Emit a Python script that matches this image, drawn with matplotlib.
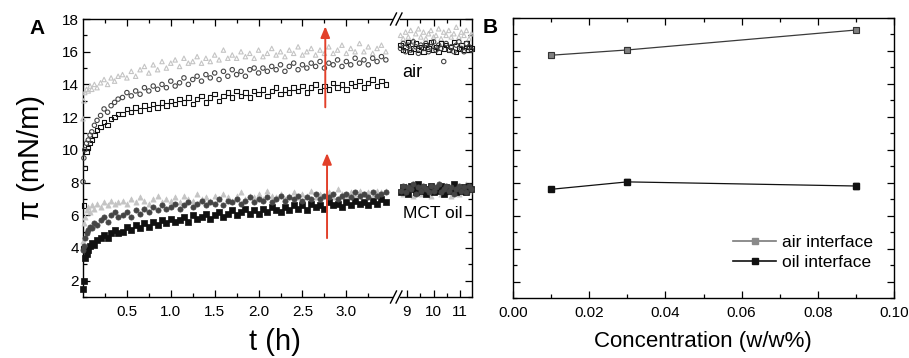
import matplotlib
matplotlib.use('Agg')
import matplotlib.pyplot as plt
from matplotlib.ticker import FixedLocator, MultipleLocator
from matplotlib.lines import Line2D

plt.rcParams['font.family'] = ['Liberation Sans', 'DejaVu Sans']

# ---------------- data: panel A (surface pressure vs time) ----------------
t_left = [0.00, 0.01, 0.02, 0.04, 0.06, 0.08, 0.10, 0.13, 0.16, 0.20, 0.24, 0.28, 0.32, 0.36, 0.40,
          0.45, 0.50, 0.55, 0.60, 0.65, 0.70, 0.75, 0.80, 0.85, 0.90,
          0.95, 1.00, 1.05, 1.10, 1.15, 1.20, 1.25, 1.30, 1.35, 1.40,
          1.45, 1.50, 1.55, 1.60, 1.65, 1.70, 1.75, 1.80, 1.85, 1.90,
          1.95, 2.00, 2.05, 2.10, 2.15, 2.20, 2.25, 2.30, 2.35, 2.40,
          2.45, 2.50, 2.55, 2.60, 2.65, 2.70, 2.75, 2.80, 2.85, 2.90,
          2.95, 3.00, 3.05, 3.10, 3.15, 3.20, 3.25, 3.30, 3.35, 3.40,
          3.45]

t_right = [8.76, 8.86, 8.95, 9.05, 9.14, 9.24, 9.33, 9.43, 9.52, 9.62,
           9.71, 9.81, 9.90, 10.00, 10.09, 10.19, 10.28, 10.38, 10.47, 10.57,
           10.66, 10.76, 10.85, 10.95, 11.04, 11.14, 11.23, 11.33, 11.42]

# air interface
air_tri_left = [11.9, 13.0, 13.5, 13.7, 13.6, 13.9, 13.7, 14.0, 13.8, 14.1, 14.3, 14.0, 14.4, 14.2, 14.5,
                14.6, 14.4, 14.8, 14.5, 14.9, 15.1, 14.7, 15.2, 14.9, 15.4,
                15.0, 15.3, 15.5, 15.1, 15.6, 15.3, 15.4, 15.7, 15.3, 15.6,
                15.4, 15.8, 15.5, 16.1, 15.6, 15.8, 15.6, 16.0, 15.7, 15.9,
                15.6, 16.1, 15.7, 15.9, 16.2, 15.8, 16.0, 15.7, 16.1, 15.9,
                16.3, 15.8, 16.0, 16.2, 15.8, 16.1, 15.9, 16.3, 15.9, 16.1,
                16.4, 15.9, 16.2, 16.0, 16.5, 16.0, 16.3, 15.9, 16.2, 16.4,
                16.0]
air_cir_left = [8.05, 9.5, 10.0, 10.4, 10.6, 10.9, 11.1, 11.5, 11.8, 12.1, 12.5, 12.3, 12.7, 12.9, 13.1,
                13.2, 13.5, 13.3, 13.6, 13.4, 13.8, 13.6, 13.9, 13.7, 14.0,
                13.8, 14.2, 13.9, 14.1, 14.4, 14.0, 14.3, 14.5, 14.2, 14.6,
                14.4, 14.7, 14.3, 14.8, 14.5, 14.9, 14.6, 14.8, 14.5, 14.9,
                15.0, 14.7, 15.0, 14.8, 15.1, 14.9, 15.2, 14.8, 15.1, 15.3,
                14.9, 15.2, 15.0, 15.3, 15.1, 15.4, 15.0, 15.3, 15.2, 15.5,
                15.1, 15.4, 15.2, 15.6, 15.3, 15.5, 15.2, 15.6, 15.4, 15.7,
                15.5]
air_sq_left = [4.0, 6.6, 8.9, 9.9, 10.1, 10.4, 10.6, 10.9, 11.2, 11.4, 11.7, 11.5, 11.9, 12.0, 12.2,
               12.2, 12.5, 12.3, 12.6, 12.4, 12.7, 12.5, 12.8, 12.6, 12.9,
               12.7, 13.0, 12.8, 13.1, 12.9, 13.2, 12.8, 13.1, 13.3, 12.9,
               13.2, 13.4, 13.0, 13.3, 13.5, 13.2, 13.6, 13.3, 13.5, 13.2,
               13.6, 13.4, 13.7, 13.3, 13.6, 13.8, 13.4, 13.7, 13.5, 13.8,
               13.6, 13.9, 13.5, 13.8, 14.0, 13.6, 13.9, 13.7, 14.1, 13.8,
               14.0, 13.7, 14.1, 13.9, 14.2, 13.8, 14.1, 14.3, 13.9, 14.2,
               14.0]
air_tri_right = [17.0, 16.8, 17.2, 16.9, 17.3, 16.7, 17.1, 17.4, 16.9, 17.2,
                 16.8, 17.1, 17.3, 16.9, 17.0, 17.4, 16.8, 17.2, 17.0, 17.3,
                 16.9, 17.1, 17.5, 16.9, 17.2, 17.0, 17.3, 16.8, 17.1]
air_cir_right = [16.2, 16.5, 16.0, 16.4, 16.1, 16.6, 16.3, 15.9, 16.4, 16.2,
                 16.5, 16.0, 16.3, 16.6, 16.1, 16.4, 16.2, 15.4, 16.5, 16.1,
                 16.3, 16.0, 16.4, 16.6, 16.2, 16.0, 16.5, 16.3, 16.1]
air_sq_right = [16.4, 16.1, 16.3, 16.6, 16.0, 16.2, 16.5, 16.1, 16.3, 16.0,
                16.4, 16.2, 16.6, 16.1, 16.3, 16.0, 16.5, 16.2, 16.4, 16.1,
                16.3, 16.6, 16.0, 16.2, 16.4, 16.1, 16.5, 16.3, 16.2]

# MCT oil interface
oil_tri_left = [4.4, 5.5, 5.9, 6.3, 6.5, 6.2, 6.6, 6.4, 6.7, 6.5, 6.8, 6.6, 6.9, 6.7, 6.8,
                6.9, 6.7, 7.0, 6.8, 7.1, 6.9, 6.7, 7.0, 7.2, 6.8,
                7.0, 6.9, 7.1, 6.8, 7.2, 7.0, 6.9, 7.3, 7.0, 7.1,
                6.9, 7.2, 7.0, 7.3, 7.1, 6.9, 7.2, 7.4, 7.0, 7.2,
                7.1, 7.3, 7.0, 7.5, 7.2, 7.1, 7.3, 7.0, 7.2, 7.4,
                7.1, 7.3, 7.2, 7.5, 7.1, 7.3, 7.2, 7.4, 7.1, 7.6,
                7.3, 7.2, 7.4, 7.2, 7.5, 7.3, 7.4, 7.2, 7.5, 7.4,
                7.5]
oil_cir_left = [3.9, 4.1, 4.6, 4.9, 5.1, 5.3, 5.2, 5.5, 5.4, 5.7, 5.9, 5.6, 6.0, 6.2, 5.9,
                6.0, 6.2, 5.9, 6.3, 6.1, 6.4, 6.2, 6.5, 6.3, 6.6,
                6.4, 6.5, 6.7, 6.4, 6.6, 6.8, 6.5, 6.7, 6.9, 6.6,
                6.8, 6.7, 7.0, 6.6, 6.9, 6.8, 7.0, 6.7, 6.9, 7.1,
                6.8, 7.0, 6.9, 7.1, 6.8, 7.0, 7.2, 6.9, 7.1, 7.0,
                7.2, 6.9, 7.1, 7.0, 7.3, 7.0, 7.2, 7.1, 7.3, 7.0,
                7.2, 7.3, 7.1, 7.4, 7.2, 7.3, 7.1, 7.4, 7.2, 7.3,
                7.4]
oil_sq_left = [1.5, 2.0, 3.4, 3.6, 3.9, 4.1, 4.3, 4.2, 4.5, 4.6, 4.8, 4.6, 4.9, 5.1, 4.9,
               5.0, 5.3, 5.1, 5.4, 5.2, 5.5, 5.3, 5.6, 5.4, 5.7,
               5.5, 5.8, 5.6, 5.7, 5.9, 5.6, 6.0, 5.8, 5.9, 6.1,
               5.8, 6.0, 6.2, 5.9, 6.1, 6.3, 6.0, 6.2, 6.4, 6.1,
               6.3, 6.1, 6.4, 6.2, 6.5, 6.3, 6.2, 6.5, 6.3, 6.6,
               6.4, 6.6, 6.3, 6.7, 6.5, 6.6, 6.4, 6.8, 6.6, 6.7,
               6.5, 6.8, 6.6, 6.9, 6.7, 6.8, 6.6, 6.9, 6.7, 7.0,
               6.8]
oil_tri_right = [7.6, 7.3, 7.8, 7.4, 7.7, 7.2, 7.9, 7.5, 7.3, 7.7,
                 7.4, 7.8, 7.2, 7.6, 7.5, 7.9, 7.3, 7.7, 7.4, 7.6,
                 7.2, 7.8, 7.5, 7.3, 7.7, 7.4, 7.9, 7.5, 7.6]
oil_cir_right = [7.5, 7.8, 7.4, 7.7, 7.6, 7.9, 7.3, 7.7, 7.5, 7.8,
                 7.6, 7.4, 7.8, 7.5, 7.7, 7.9, 7.4, 7.6, 7.8, 7.5,
                 7.7, 7.3, 7.6, 7.8, 7.5, 7.7, 7.4, 7.8, 7.6]
oil_sq_right = [7.4, 7.7, 7.5, 7.3, 7.8, 7.6, 7.4, 7.9, 7.5, 7.7,
                7.3, 7.6, 7.8, 7.4, 7.6, 7.5, 7.8, 7.3, 7.7, 7.5,
                7.6, 7.9, 7.4, 7.6, 7.5, 7.7, 7.4, 7.8, 7.6]

# red arrows (time, from, to)
arrow_t = [2.76, 2.78]
arrow_from = [12.6, 4.6]
arrow_to = [17.55, 9.8]

# ---------------- data: panel B (pi vs concentration) ----------------
conc = [0.01, 0.03, 0.09]
air_pi = [15.74, 16.06, 17.27]
air_err = [0.15, 0.15, 0.12]
oil_pi = [7.60, 8.05, 7.80]
oil_err = [0.10, 0.15, 0.20]

# ---------------- figure ----------------
W, H = 909, 358
fig = plt.figure(figsize=(W / 100, H / 100), dpi=100)

def fx(px):
    return px / W

def fy(py):
    return 1 - py / H

axL = fig.add_axes([fx(83), fy(297), fx(392 - 83), (297 - 19) / H])
axR = fig.add_axes([fx(400), fy(297), fx(472 - 400), (297 - 19) / H])
axB = fig.add_axes([fx(513), fy(298), fx(894 - 513), (298 - 18) / H])

LIGHT = '#c4c4c4'
DARK = '#454545'
BLACK = '#111111'

def draw(ax, t, tri_a, cir_a, sq_a, tri_o, cir_o, sq_o):
    kw = dict(s=10, linewidths=0.8, clip_on=False, zorder=3)
    ax.scatter(t, tri_a, marker='^', facecolors='none', edgecolors=LIGHT, **kw)
    ax.scatter(t, sq_a, marker='s', facecolors='none', edgecolors=BLACK, **kw)
    ax.scatter(t, cir_a, marker='o', facecolors='none', edgecolors=DARK, **kw)
    kw2 = dict(s=14, linewidths=0.5, clip_on=False, zorder=3)
    ax.scatter(t, tri_o, marker='^', facecolors=LIGHT, edgecolors=LIGHT, **kw2)
    ax.scatter(t, sq_o, marker='s', facecolors=BLACK, edgecolors=BLACK, **kw2)
    ax.scatter(t, cir_o, marker='o', facecolors=DARK, edgecolors=DARK, **kw2)

draw(axL, t_left, air_tri_left, air_cir_left, air_sq_left,
     oil_tri_left, oil_cir_left, oil_sq_left)
draw(axR, t_right, air_tri_right, air_cir_right, air_sq_right,
     oil_tri_right, oil_cir_right, oil_sq_right)

for ax in (axL, axR, axB):
    ax.set_ylim(1, 18)
    for sp in ax.spines.values():
        sp.set_linewidth(1.0)
    ax.yaxis.set_major_locator(MultipleLocator(2))
    ax.yaxis.set_minor_locator(MultipleLocator(1))
    ax.tick_params(which='major', direction='in', length=5, width=0.9, labelsize=11)
    ax.tick_params(which='minor', direction='in', length=3, width=0.9)

# left segment
axL.set_xlim(0, 3.52)
axL.spines['right'].set_visible(False)
axL.xaxis.set_major_locator(FixedLocator([0.5, 1.0, 1.5, 2.0, 2.5, 3.0]))
axL.xaxis.set_minor_locator(FixedLocator([0.25, 0.75, 1.25, 1.75, 2.25, 2.75, 3.25]))
axL.set_yticks([2, 4, 6, 8, 10, 12, 14, 16, 18])
axL.tick_params(axis='x', which='both', top=True, bottom=True, pad=6)
axL.tick_params(axis='y', which='both', left=True, right=False, pad=3)

# right segment
axR.set_xlim(8.74, 11.44)
axR.spines['left'].set_visible(False)
axR.xaxis.set_major_locator(FixedLocator([9, 10, 11]))
axR.xaxis.set_minor_locator(FixedLocator([9.5, 10.5]))
axR.tick_params(axis='x', which='both', top=True, bottom=True, pad=6)
axR.tick_params(axis='y', which='both', left=False, right=True, labelleft=False)

axR.text(8.81, 14.47, 'air', fontsize=13, va='baseline', ha='left')
axR.text(8.85, 5.83, 'MCT oil', fontsize=12.5, va='baseline', ha='left')

# break marks
for ypx in (19, 297):
    for xpx in (393.5, 399.0):
        fig.add_artist(Line2D([fx(xpx - 3), fx(xpx + 3)], [fy(ypx + 6), fy(ypx - 6)],
                              color='black', lw=1.0, transform=fig.transFigure))

# red arrows
for t, y0, y1 in zip(arrow_t, arrow_from, arrow_to):
    axL.annotate('', xy=(t, y1), xytext=(t, y0),
                 arrowprops=dict(arrowstyle='-|>,head_length=0.6,head_width=0.25',
                                 color='#e2402a', lw=1.4,
                                 mutation_scale=11, shrinkA=0, shrinkB=0), zorder=5)

# labels panel A
axL.set_ylabel('\u03c0 (mN/m)', fontsize=21, labelpad=12)
fig.text(fx(275), fy(342), 't (h)', fontsize=21, ha='center', va='center')
fig.text(fx(29), fy(34), 'A', fontsize=15, fontweight='bold', va='baseline')

# ---------------- panel B ----------------
axB.errorbar(conc, air_pi, yerr=air_err, color='#3a3a3a', lw=0.9, marker='s', ms=5,
             mfc='#808080', mec='#333333', mew=0.8, ecolor='#222222', elinewidth=1,
             capsize=2, capthick=1, zorder=3)
axB.errorbar(conc, oil_pi, yerr=oil_err, color='#111111', lw=0.9, marker='s', ms=5,
             mfc='#111111', mec='#111111', ecolor='#111111', elinewidth=1,
             capsize=2, capthick=1, zorder=3)
axB.set_xlim(0, 0.10)
axB.xaxis.set_major_locator(FixedLocator([0.00, 0.02, 0.04, 0.06, 0.08, 0.10]))
axB.xaxis.set_minor_locator(FixedLocator([0.01, 0.03, 0.05, 0.07, 0.09]))
axB.set_xticklabels(['0.00', '0.02', '0.04', '0.06', '0.08', '0.10'])
axB.tick_params(axis='x', which='both', top=True, bottom=True, pad=6)
axB.tick_params(axis='y', which='both', left=True, right=True, labelleft=False)

handles = [Line2D([], [], color='#7a7a7a', lw=1.2, marker='s', ms=4.5,
                  mfc='#8a8a8a', mec='#8a8a8a'),
           Line2D([], [], color='#111111', lw=1.2, marker='s', ms=4.5,
                  mfc='#111111', mec='#111111')]
axB.legend(handles, ['air interface', 'oil interface'], loc='upper left',
           bbox_to_anchor=(fx(733), fy(235)), bbox_transform=fig.transFigure,
           frameon=False, fontsize=12.5, borderpad=0, borderaxespad=0,
           handlelength=2.5, handletextpad=0.3, labelspacing=0.25)

fig.text(fx(703), fy(342), 'Concentration (w/w%)', fontsize=16, ha='center', va='center')
fig.text(fx(483), fy(33), 'B', fontsize=15, fontweight='bold', va='baseline')

fig.savefig('out.png', dpi=100)
